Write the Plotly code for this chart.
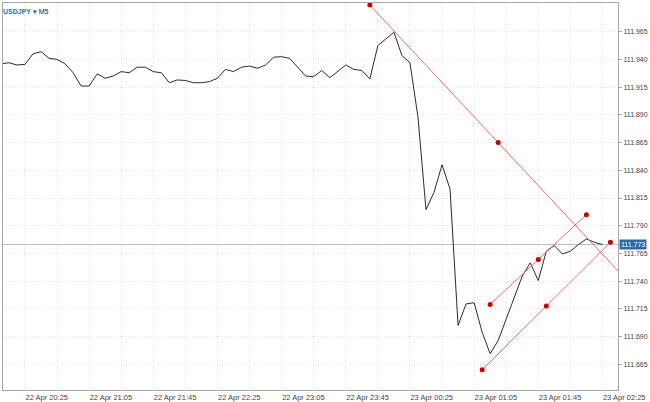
import pandas as pd
import plotly.graph_objects as go

# ---- data ----
start_time = "2019-04-22 20:10"
bar_minutes = 5
close_prices = [
    111.936, 111.937, 111.935, 111.9355, 111.945, 111.947, 111.941, 111.940,
    111.936, 111.928, 111.916, 111.916, 111.927, 111.923, 111.925, 111.929,
    111.928, 111.933, 111.933, 111.929, 111.928, 111.919, 111.9215, 111.921,
    111.919, 111.919, 111.920, 111.923, 111.931, 111.929, 111.933, 111.934,
    111.932, 111.935, 111.942, 111.9425, 111.941, 111.933, 111.925, 111.9245,
    111.930, 111.9235, 111.929, 111.935, 111.931, 111.930, 111.9225, 111.9525,
    111.9585, 111.9645, 111.9435, 111.937, 111.888, 111.8045, 111.820, 111.845,
    111.823, 111.700, 111.7195, 111.7205, 111.694, 111.6745, 111.6865, 111.706,
    111.7265, 111.7445, 111.7565, 111.7405, 111.767, 111.772, 111.7645, 111.767,
    111.773, 111.778, 111.775, 111.773,
]
current_price = 111.773

# trend lines: (time1, price1, time2, price2)
trend_down = ("2019-04-23 00:00", 111.989, "2019-04-23 02:40", 111.741)
channel_up = ("2019-04-23 01:15", 111.719, "2019-04-23 02:15", 111.800)
channel_low = ("2019-04-23 01:10", 111.660, "2019-04-23 02:30", 111.775)

y_ticks = [round(111.665 + 0.025 * i, 3) for i in range(13)]
x_range = ["2019-04-22 20:11:18", "2019-04-23 02:34:42"]
y_range = [111.6418, 111.9909]
symbol_title = "USDJPY"
timeframe = "M5"

# ---- build ----
FONT = "Liberation Sans, Arial"
times = pd.date_range(start_time, periods=len(close_prices), freq=f"{bar_minutes}min")

fig = go.Figure()
fig.add_trace(go.Scatter(x=times, y=close_prices, mode="lines",
                         line=dict(color="#2b2b2b", width=1), hoverinfo="skip"))

red_line = "#e36a6a"
red_dot = "#c80000"
for (t1, p1, t2, p2) in [trend_down, channel_up, channel_low]:
    ta, tb = pd.Timestamp(t1), pd.Timestamp(t2)
    tm = ta + (tb - ta) / 2
    pm = (p1 + p2) / 2
    fig.add_trace(go.Scatter(x=[ta, tb], y=[p1, p2], mode="lines",
                             line=dict(color=red_line, width=1), hoverinfo="skip"))
    fig.add_trace(go.Scatter(x=[ta, tm, tb], y=[p1, pm, p2], mode="markers",
                             marker=dict(color=red_dot, size=5), hoverinfo="skip"))

fig.add_shape(type="line", xref="paper", x0=0, x1=1, yref="y",
              y0=current_price, y1=current_price,
              line=dict(color="#aebfd3", width=1), layer="below")

fig.add_annotation(xref="paper", x=1, yref="y", y=current_price,
                   text=f"{current_price:.3f}", showarrow=False,
                   xanchor="left", yanchor="middle", xshift=1,
                   bgcolor="#2f68a3", font=dict(color="white", size=7, family=FONT),
                   borderpad=1)

fig.add_annotation(xref="paper", x=0, yref="paper", y=0.977,
                   text=f"<b><span style='color:#1e6fd0'>{symbol_title} ▾</span></b> {timeframe}",
                   showarrow=False, xanchor="left", yanchor="middle", xshift=-2,
                   font=dict(size=7, color="#222", family=FONT))

grid_c = "#e0e0e0"
gdash = "1px,2px"
fig.update_layout(
    width=650, height=402,
    margin=dict(l=3, r=32, t=3, b=12, autoexpand=False),
    paper_bgcolor="white", plot_bgcolor="white",
    showlegend=False,
    font=dict(family=FONT, size=7, color="#444"),
)
fig.update_xaxes(
    type="date", range=x_range, automargin=False,
    tick0="2019-04-22 20:25", dtick=40 * 60 * 1000,
    tickformat="%d %b %H:%M", ticklabelposition="outside right",
    ticks="", showgrid=True, gridcolor=grid_c, griddash=gdash, gridwidth=1,
    minor=dict(dtick=20 * 60 * 1000, tick0="2019-04-22 20:25", showgrid=True,
               gridcolor=grid_c, griddash=gdash, gridwidth=1),
    showline=True, linecolor="#a8a8a8", linewidth=1, mirror=True,
    zeroline=False, tickfont=dict(size=7.5, color="#444"),
)
fig.update_yaxes(
    side="right", range=y_range, tickvals=y_ticks, automargin=False,
    ticktext=[f"{v:.3f}" for v in y_ticks],
    ticks="outside", ticklen=3, tickcolor="#a8a8a8",
    showgrid=True, gridcolor=grid_c, griddash=gdash, gridwidth=1,
    showline=True, linecolor="#a8a8a8", linewidth=1, mirror=True,
    zeroline=False, tickfont=dict(size=7, color="#444"),
)

fig.write_html("out.html", config={"displayModeBar": False},
               post_script="document.body.style.margin='0';document.body.style.overflow='hidden';")
